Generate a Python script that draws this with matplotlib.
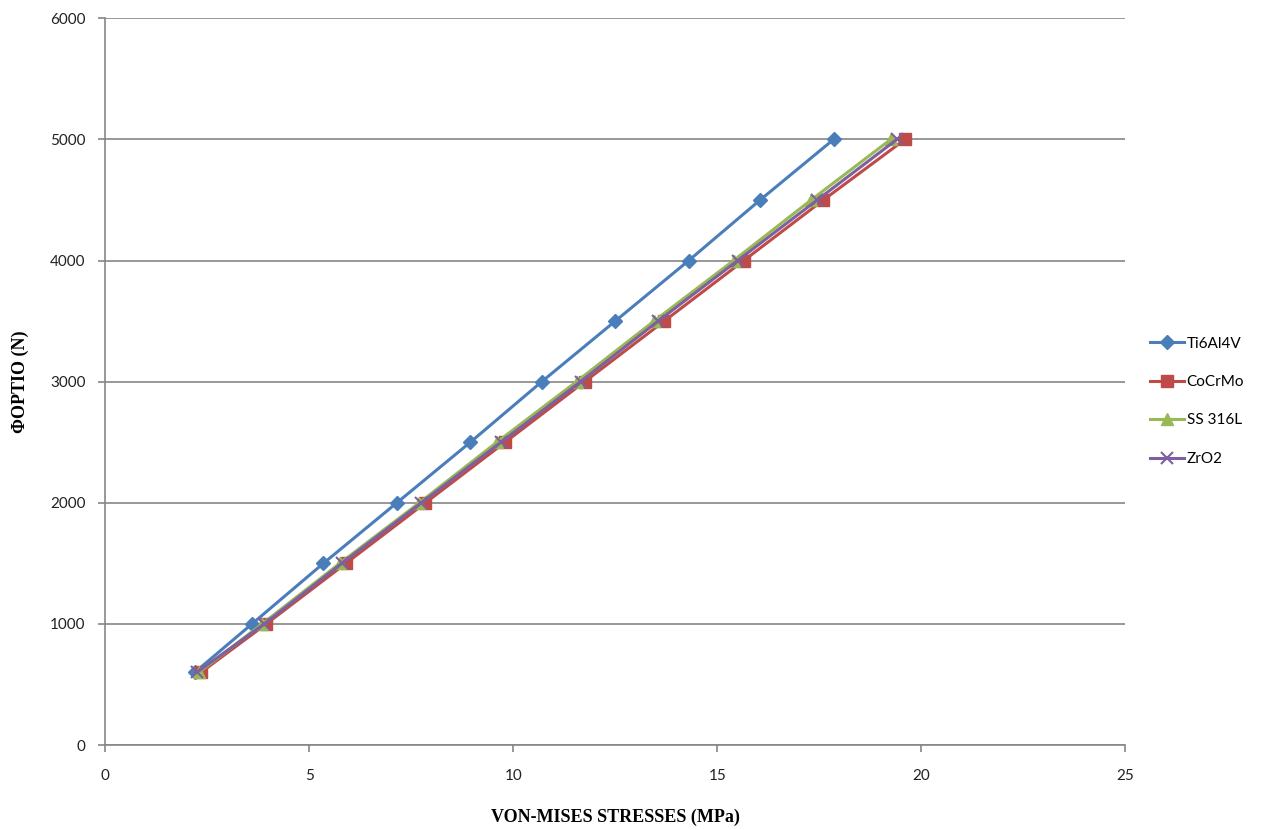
import matplotlib
matplotlib.use("Agg")
import matplotlib.pyplot as plt

loads = [600, 1000, 1500, 2000, 2500, 3000, 3500, 4000, 4500, 5000]
ti6al4v = [2.2, 3.6, 5.35, 7.15, 8.95, 10.7, 12.5, 14.3, 16.05, 17.85]
cocrmo = [2.35, 3.95, 5.9, 7.85, 9.8, 11.75, 13.7, 15.65, 17.6, 19.6]
ss316l = [2.3, 3.85, 5.75, 7.7, 9.6, 11.55, 13.45, 15.4, 17.3, 19.25]
zro2 = [2.25, 3.9, 5.8, 7.75, 9.7, 11.65, 13.55, 15.5, 17.45, 19.4]
series_names = ["Ti6Al4V", "CoCrMo", "SS 316L", "ZrO2"]
x_ticks = [0, 5, 10, 15, 20, 25]
y_ticks = [0, 1000, 2000, 3000, 4000, 5000, 6000]

fig = plt.figure(figsize=(12.66, 8.30), dpi=100)
ax = fig.add_axes([0.083, 0.1024, 0.806, 0.8756])

styles = [
    dict(color="#4A7EBB", marker="D", markersize=7),
    dict(color="#BE4B48", marker="s", markersize=9),
    dict(color="#98B954", marker="^", markersize=9),
    dict(color="#7D60A0", marker="x", markersize=9, markeredgewidth=1.5),
]
for vals, name, st in zip([ti6al4v, cocrmo, ss316l, zro2], series_names, styles):
    ax.plot(vals, loads, label=name, linewidth=2.2, **st)

ax.set_xlim(0, 25)
ax.set_ylim(0, 6000)
ax.set_xticks(x_ticks)
ax.set_yticks(y_ticks)
ax.yaxis.grid(True, color="#868686", linewidth=1.2)
ax.set_axisbelow(True)
for s in ["top", "right"]:
    ax.spines[s].set_visible(False)
for s in ["left", "bottom"]:
    ax.spines[s].set_color("#868686")
    ax.spines[s].set_linewidth(1.2)
ax.tick_params(axis="both", colors="#868686", length=5, width=1.2, labelsize=11,
               labelcolor="#222222", direction="out")
ax.tick_params(axis="x", pad=12)
ax.tick_params(axis="y", pad=9)
for lbl in ax.get_xticklabels() + ax.get_yticklabels():
    lbl.set_family("Lato")

ax.set_xlabel("VON-MISES STRESSES (MPa)", family="Liberation Serif", fontweight="bold",
              fontsize=13, labelpad=19)
ax.set_ylabel("ΦΟΡΤΙΟ (N)", family="Liberation Serif", fontweight="bold",
              fontsize=13, labelpad=15)

leg = ax.legend(loc="center left", bbox_to_anchor=(1.0, 0.473), frameon=False,
                prop={"family": "Lato", "size": 11}, labelspacing=1.6,
                handlelength=2.2, handletextpad=0.2, borderaxespad=1.2)

fig.savefig("out.png", dpi=100)
